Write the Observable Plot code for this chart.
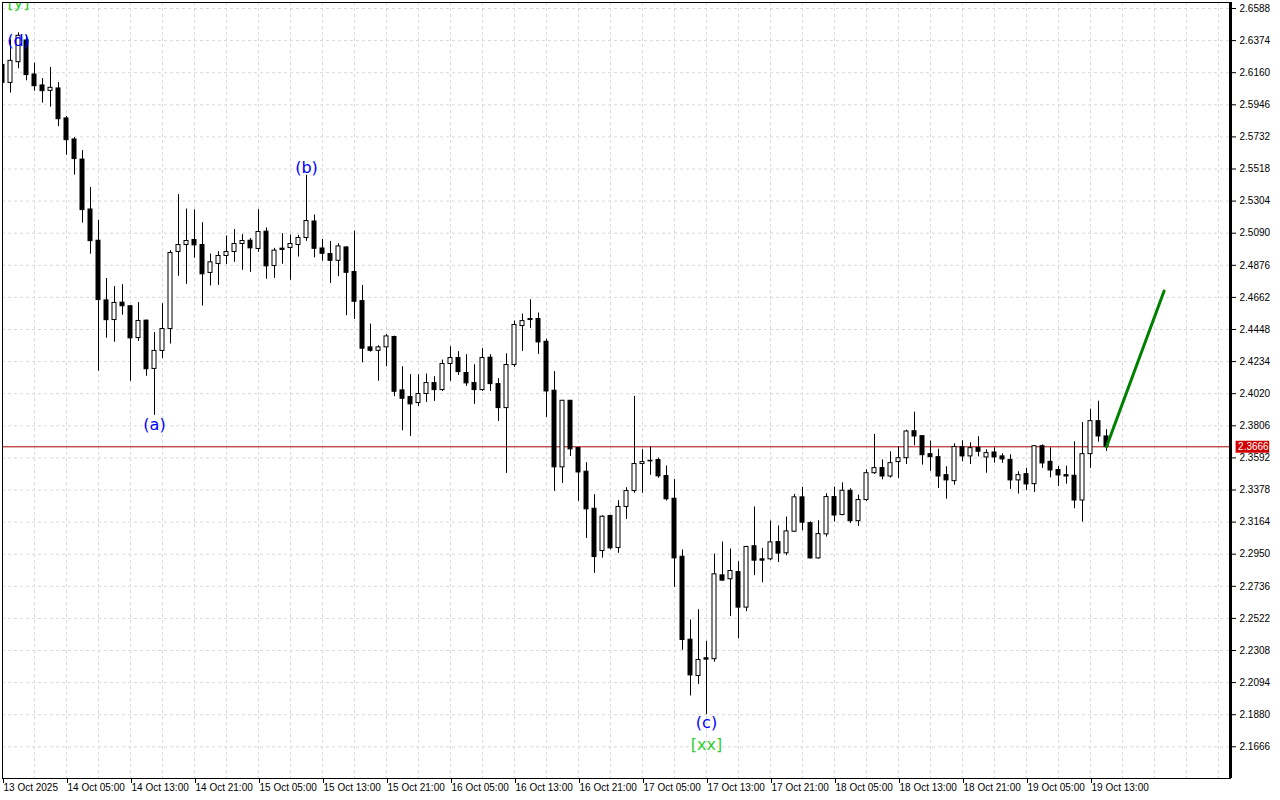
<!DOCTYPE html>
<html>
<head>
<meta charset="utf-8">
<script src="https://cdn.jsdelivr.net/npm/d3@7"></script>
<script src="https://cdn.jsdelivr.net/npm/@observablehq/plot@0.6"></script>
<style>
  html, body { margin: 0; padding: 0; background: #ffffff; }
  svg { display: block; }
</style>
</head>
<body>
<script>
// Hourly candles, 13 Oct 2025 21:00 → 19 Oct 2025 15:00 (index = hours since first bar)
const opens = [
2.6212,2.6092,2.6230,2.6375,2.6148,2.6075,2.6039,2.6055,2.5855,2.5715,
2.5581,2.5248,2.5040,2.4642,2.4511,2.4627,2.4603,2.4391,2.4507,2.4185,
2.4305,2.4451,2.4965,2.5011,2.5045,2.5011,2.4825,2.4885,2.4938,2.4965,
2.5018,2.5040,2.4985,2.5100,2.4871,2.4987,2.4991,2.5011,2.5058,2.5168,
2.4988,2.4951,2.4906,2.4995,2.4831,2.4637,2.4329,2.4306,2.4329,2.4398,
2.4042,2.3998,2.3958,2.4018,2.4091,2.4044,2.4218,2.4258,2.4158,2.4091,
2.4044,2.4260,2.4084,2.3924,2.4211,2.4471,2.4518,2.4518,2.4366,2.4040,
2.3529,2.3973,2.3658,2.3500,2.3253,2.2971,2.3205,2.2991,2.3265,2.3371,
2.3551,2.3573,2.3578,2.3471,2.3320,2.2933,2.2380,2.2138,2.2256,2.2250,
2.2809,2.2783,2.2831,2.2594,2.3003,2.2916,2.2916,2.3031,2.2956,2.3100,
2.3329,2.3157,2.2922,2.3082,2.3331,2.3211,2.3373,2.3170,2.3311,2.3490,
2.3524,2.3468,2.3564,2.3590,2.3770,2.3737,2.3617,2.3597,2.3477,2.3437,
2.3664,2.3602,2.3659,2.3595,2.3628,2.3602,2.3579,2.3442,2.3484,2.3417,
2.3670,2.3566,2.3511,2.3477,2.3473,2.3308,2.3617,2.3837,2.3735];
const highs = [
2.6230,2.6379,2.6426,2.6408,2.6224,2.6121,2.6195,2.6095,2.5868,2.5728,
2.5641,2.5395,2.5175,2.4788,2.4734,2.4747,2.4605,2.4627,2.4511,2.4427,
2.4620,2.4974,2.5347,2.5251,2.5245,2.5160,2.4951,2.4967,2.5071,2.5114,
2.5080,2.5054,2.5247,2.5125,2.4989,2.5087,2.5078,2.5076,2.5476,2.5211,
2.5048,2.5035,2.5020,2.5000,2.5104,2.4742,2.4484,2.4340,2.4415,2.4404,
2.4200,2.4147,2.4147,2.4151,2.4133,2.4244,2.4333,2.4300,2.4280,2.4213,
2.4320,2.4280,2.4120,2.4286,2.4504,2.4551,2.4646,2.4558,2.4384,2.4167,
2.3973,2.3973,2.3662,2.3560,2.3347,2.3207,2.3209,2.3307,2.3393,2.4002,
2.3647,2.3664,2.3591,2.3538,2.3447,2.2978,2.2511,2.2580,2.2369,2.2951,
2.3031,2.2985,2.2900,2.3003,2.3265,2.2989,2.3171,2.3138,2.3198,2.3349,
2.3396,2.3166,2.3173,2.3353,2.3397,2.3426,2.3386,2.3344,2.3513,2.3748,
2.3579,2.3633,2.3666,2.3777,2.3897,2.3737,2.3704,2.3650,2.3533,2.3686,
2.3706,2.3693,2.3733,2.3646,2.3659,2.3619,2.3613,2.3499,2.3522,2.3672,
2.3679,2.3659,2.3535,2.3537,2.3699,2.3828,2.3917,2.3970,2.3780];
const lows = [
2.6080,2.6024,2.6186,2.6106,2.6037,2.5957,2.5930,2.5801,2.5610,2.5477,
2.5157,2.4950,2.4170,2.4390,2.4363,2.4543,2.4103,2.4369,2.4136,2.3876,
2.4254,2.4351,2.4803,2.4749,2.4923,2.4605,2.4738,2.4742,2.4880,2.4896,
2.4843,2.4829,2.4962,2.4783,2.4789,2.4883,2.4776,2.4931,2.5036,2.4926,
2.4904,2.4755,2.4800,2.4540,2.4515,2.4226,2.4297,2.4103,2.4200,2.4000,
2.3773,2.3735,2.3935,2.3962,2.3969,2.4035,2.4102,2.4142,2.4069,2.3949,
2.4035,2.4035,2.3835,2.3489,2.4195,2.4302,2.4455,2.4282,2.3862,2.3369,
2.3422,2.3602,2.3302,2.3055,2.2822,2.2924,2.2980,2.2956,2.3182,2.3356,
2.3356,2.3476,2.3456,2.3305,2.2729,2.2309,2.2005,2.2082,2.1880,2.2230,
2.2770,2.2534,2.2387,2.2567,2.2807,2.2760,2.2907,2.2894,2.2940,2.3094,
2.3107,2.2917,2.2917,2.3064,2.3164,2.3207,2.3155,2.3135,2.3302,2.3482,
2.3446,2.3457,2.3455,2.3548,2.3673,2.3544,2.3502,2.3388,2.3317,2.3410,
2.3566,2.3548,2.3599,2.3490,2.3557,2.3555,2.3382,2.3351,2.3375,2.3362,
2.3522,2.3459,2.3402,2.3417,2.3253,2.3164,2.3522,2.3697,2.3635];
const closes = [
2.6092,2.6239,2.6406,2.6144,2.6070,2.6037,2.6059,2.5850,2.5710,2.5584,
2.5244,2.5037,2.4644,2.4510,2.4625,2.4603,2.4389,2.4505,2.4183,2.4305,
2.4451,2.4958,2.5011,2.5038,2.5009,2.4816,2.4896,2.4938,2.4965,2.5018,
2.5038,2.4989,2.5098,2.4869,2.4974,2.4978,2.5018,2.5058,2.5171,2.4986,
2.4953,2.4906,2.5002,2.4826,2.4633,2.4320,2.4306,2.4329,2.4402,2.4033,
2.3986,2.3949,2.4018,2.4091,2.4044,2.4218,2.4258,2.4164,2.4089,2.4044,
2.4258,2.4084,2.3924,2.4211,2.4478,2.4504,2.4511,2.4362,2.4035,2.3529,
2.3973,2.3649,2.3495,2.3249,2.2931,2.3200,2.2989,2.3265,2.3371,2.3551,
2.3564,2.3569,2.3469,2.3316,2.2922,2.2378,2.2142,2.2245,2.2247,2.2816,
2.2774,2.2838,2.2594,2.2998,2.2907,2.2907,2.3029,2.2954,2.3102,2.3329,
2.3160,2.2922,2.3084,2.3331,2.3208,2.3373,2.3170,2.3311,2.3490,2.3524,
2.3468,2.3557,2.3590,2.3768,2.3735,2.3610,2.3597,2.3468,2.3442,2.3664,
2.3602,2.3657,2.3633,2.3624,2.3595,2.3582,2.3442,2.3477,2.3415,2.3670,
2.3555,2.3508,2.3475,2.3468,2.3308,2.3617,2.3837,2.3735,2.3666];

// Right price axis labels
const yTicks = [2.6588,2.6374,2.6160,2.5946,2.5732,2.5518,2.5304,2.5090,2.4876,2.4662,
  2.4448,2.4234,2.4020,2.3806,2.3592,2.3378,2.3164,2.2950,2.2736,2.2522,2.2308,2.2094,2.1880,2.1666];

// Bottom time axis labels (every 8 bars starting at the first bar)
const xLabels = ["13 Oct 2025","14 Oct 05:00","14 Oct 13:00","14 Oct 21:00","15 Oct 05:00",
  "15 Oct 13:00","15 Oct 21:00","16 Oct 05:00","16 Oct 13:00","16 Oct 21:00","17 Oct 05:00",
  "17 Oct 13:00","17 Oct 21:00","18 Oct 05:00","18 Oct 13:00","18 Oct 21:00","19 Oct 05:00","19 Oct 13:00"];

// Wave labels (bar index, price anchor)
const waveText  = ["[y]", "(d)", "(a)", "(b)", "(c)", "[xx]"];
const waveBar   = [2, 2, 19, 38, 88, 88];
const wavePrice = [2.6625, 2.6375, 2.3815, 2.5528, 2.1828, 2.1681];
const waveKind  = ["green", "blue", "blue", "blue", "blue", "green"];

// Projection arrow (bar index, price)
const arrowBar   = [138, 145.2];
const arrowPrice = [2.3666, 2.4705];

const lastPrice = 2.3666;

// ---- build tables ----
const candles = opens.map((o, i) => ({i, open: o, high: highs[i], low: lows[i], close: closes[i]}));
const waves = waveText.map((t, k) => ({text: t, i: waveBar[k], p: wavePrice[k], kind: waveKind[k]}));
const arrow = arrowBar.map((b, k) => ({i: b, p: arrowPrice[k]}));
const labelBars = xLabels.map((_, k) => k * 8);
const gridBars = d3.range(0, 154, 4);

const X_MAX = 153.5;
const RED = "#d00000";
const LINE_RED = "#a80000";
const GRID = "#d9d9d9";

const chart = Plot.plot({
  width: 1280,
  height: 800,
  marginLeft: 2,
  marginTop: 2,
  marginRight: 50,
  marginBottom: 22,
  x: {type: "linear", domain: [0, X_MAX], label: null},
  y: {domain: [2.14547, 2.6628], label: null},
  style: {fontFamily: "'Liberation Sans', Arial, sans-serif", fontSize: "10px", background: "#ffffff", color: "#000"},
  marks: [
    Plot.ruleY(yTicks, {stroke: GRID, strokeDasharray: "3,3"}),
    Plot.ruleX(gridBars, {stroke: GRID, strokeDasharray: "3,3"}),
    Plot.ruleY([lastPrice], {stroke: LINE_RED, strokeWidth: 1}),
    Plot.ruleX(candles, {x: "i", y1: "low", y2: "high", stroke: "#000", clip: true}),
    Plot.rect(candles, {
      x1: d => d.i - 0.25, x2: d => d.i + 0.25,
      y1: "open", y2: "close",
      fill: d => d.close >= d.open ? "#fff" : "#000",
      stroke: "#000", strokeWidth: 1, clip: true
    }),
    Plot.line(arrow, {x: "i", y: "p", stroke: "#008000", strokeWidth: 3}),
    Plot.text(waves, {
      x: "i", y: "p", text: "text",
      fill: d => d.kind === "blue" ? "#0000ff" : "#32cd32",
      fontSize: 16, fontFamily: "'DejaVu Sans', sans-serif", clip: true
    }),
    Plot.frame({stroke: "#000"}),
    Plot.ruleX([X_MAX], {stroke: "#000", strokeWidth: 3}),
    Plot.axisY(yTicks, {
      anchor: "right", tickSize: 5, tickPadding: 4,
      tickFormat: d3.format(".4f"), fontSize: 10
    }),
    Plot.axisX(labelBars, {
      anchor: "bottom", tickSize: 5, tickPadding: 0,
      tickFormat: (d) => xLabels[d / 8], textAnchor: "start", dx: 1, fontSize: 10
    }),
    Plot.ruleY([lastPrice], {x1: 154.2, x2: 158.4, stroke: RED, strokeWidth: 12}),
    Plot.text([lastPrice], {
      x: 154.2, y: d => d, text: d => d3.format(".4f")(d),
      textAnchor: "start", dx: 2, fill: "#fff", fontSize: 10
    })
  ]
});
document.body.appendChild(chart);
</script>
</body>
</html>
